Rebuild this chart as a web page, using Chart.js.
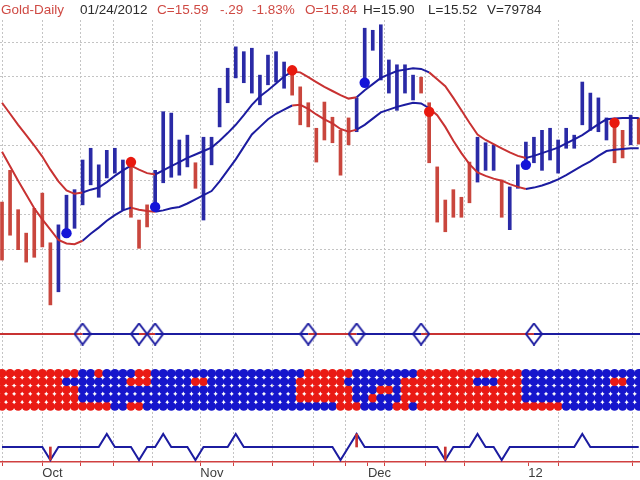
<!DOCTYPE html>
<html><head><meta charset="utf-8">
<style>html,body{margin:0;padding:0;background:#fff;overflow:hidden}canvas{display:block}</style>
<script src="https://cdn.jsdelivr.net/npm/chart.js@4.4.1/dist/chart.umd.min.js"></script>
</head><body>
<canvas id="c" width="640" height="480"></canvas>
<script>
// ---------- DATA ----------
const highs = [14.68,15.14,14.57,14.23,14.59,14.81,14.09,14.35,14.78,14.86,
  15.29,15.46,15.22,15.43,15.46,15.29,15.29,14.42,14.64,15.14,
  15.99,15.97,15.58,15.65,15.25,15.62,15.62,16.33,16.62,16.93,
  16.86,16.91,16.52,16.81,16.86,16.71,16.64,16.35,16.12,15.75,
  16.13,15.91,15.72,15.90,16.19,17.20,17.17,17.25,16.74,16.67,
  16.67,16.52,16.49,16.12,15.19,14.71,14.86,14.75,15.26,15.62,
  15.54,15.51,15.00,14.90,15.22,15.55,15.62,15.72,15.75,15.58,
  15.75,15.65,16.42,16.26,16.19,15.90,15.84,15.72,15.94,15.90];
const lows = [13.84,14.20,13.99,13.81,13.88,14.03,13.19,13.38,14.17,14.30,
  14.64,14.93,14.75,15.03,15.10,14.57,14.46,14.01,14.32,14.57,
  14.96,15.04,15.07,15.19,14.88,14.42,15.22,15.77,16.12,16.48,
  16.41,16.26,16.09,16.38,16.42,16.33,16.23,15.80,15.77,15.26,
  15.58,15.54,15.07,15.51,15.70,16.38,16.88,16.45,16.26,16.01,
  16.26,16.16,16.26,15.25,14.39,14.25,14.46,14.46,14.67,14.97,
  15.14,15.14,14.46,14.28,14.88,15.19,15.25,15.14,15.29,15.10,
  15.46,15.46,15.80,15.72,15.70,15.58,15.25,15.32,15.51,15.52];
const upperBand = [16.12,15.96,15.80,15.65,15.50,15.34,15.15,14.98,14.85,14.80,
  14.82,14.86,14.89,14.97,15.06,15.14,15.21,15.15,15.10,15.08,
  15.14,15.20,15.26,15.32,15.37,15.42,15.47,15.57,15.68,15.80,
  15.94,16.09,16.21,16.30,16.40,16.50,16.57,16.56,16.49,16.42,
  16.35,16.29,16.23,16.18,16.20,16.30,16.39,16.48,16.53,16.58,
  16.60,16.62,16.61,16.56,16.46,16.36,16.19,16.01,15.83,15.66,
  15.58,15.52,15.46,15.40,15.35,15.32,15.35,15.39,15.43,15.47,
  15.53,15.59,15.65,15.73,15.81,15.88,15.89,15.90,15.90,15.90];
const lowerBand = [15.41,15.20,14.99,14.79,14.59,14.43,14.28,14.13,14.08,14.07,
  14.12,14.22,14.31,14.41,14.49,14.56,14.60,14.57,14.55,14.54,
  14.56,14.59,14.61,14.66,14.72,14.78,14.84,14.98,15.14,15.30,
  15.48,15.66,15.77,15.88,15.96,16.02,16.08,16.09,16.03,15.95,
  15.88,15.82,15.74,15.70,15.73,15.80,15.89,15.98,16.02,16.06,
  16.09,16.12,16.11,16.04,15.94,15.77,15.57,15.39,15.23,15.11,
  15.06,15.02,14.99,14.94,14.90,14.87,14.89,14.92,14.96,15.01,
  15.07,15.14,15.21,15.27,15.35,15.42,15.44,15.45,15.46,15.46];
// R = down (red), B = up (blue), one letter per bar, groups of ten
const barTrend  = 'RRRRRRRBBB BBBBBBRRRB BBBBRBBBBB BBBBBBRRRR RRRRBBBBBB BBRRRRRRRB BBRBBBBBBB BBBBBBRRBR';
const bandTrend = 'RRRRRRRRRR BBBBBBRRRB BBBBBBBBBB BBBBBBRRRR RRRRBBBBBB BBBRRRRRRR RRRRRBBBBB BBBBBBBBBB';
const row1 = 'RRRRRRRRRR BBRBBBBRRB BBBBBBBBBB BBBBBBBBRR RRRRBBBBBB BBRRRRRRRR RRRRRBBBBB BBBBBBBBBB';
const row2 = 'RRRRRRRRBB BBBBBBRRRB BBBBRRBBBB BBBBBBBRRR RRRBBBBBBB RRRRRRRRRB BBRRRBBBBB BBBBBBRRBB';
const row3 = 'RRRRRRRRRR BBBBBBBBBB BBBBBBBBBB BBBBBBBRRR RRRRBBBRRB RRRRRRRRRR RRRRRBBBBB BBBBBBBBBB';
const row4 = 'RRRRRRRRRR BBBBBBBBBB BBBBBBBBBB BBBBBBBRRR RRRRBBRBBB RRRRRRRRRR RRRRRBBBBB BBBBBBBBBB';
const row5 = 'RRRRRRRRRR RRRRBBRRBB BBBBBBBBBB BBBBBBBBBB BBRRRBBBBR RBRRRRRRRR RRRRRRRRRR BBBBBBBBBB';
const blueDotIdx = [8, 19, 45, 65];
const blueDotVal = [14.23, 14.61, 16.41, 15.22];
const redDotIdx = [16, 36, 53, 76];
const redDotVal = [15.26, 16.59, 15.99, 15.83];
const diamondIdx = [10, 17, 19, 38, 44, 52, 66];
const wavePeaks = [13, 20, 29, 44, 59, 72];
const waveTroughs = [6, 17, 24, 42, 55, 62];
const waveMarkIdx = [6, 44, 55];
const waveMarkVal = [-1, 1, -1];
const weekTicks = [0, 5, 9.7, 13.8, 18.7, 24.6, 28.7, 33.6, 38.6, 42.6, 47.5, 52.5, 57.4, 69, 78.2];
const monthTicks = [5, 24.6, 45.4, 65.3];
const monthLabels = ['Oct', 'Nov', 'Dec', '12'];
const headerTexts = ['Gold-Daily', '01/24/2012', 'C=15.59', '-.29', '-1.83%', 'O=15.84', 'H=15.90', 'L=15.52', 'V=79784'];

// ---------- STYLE ----------
const RED_BAR = '#c9463d', BLUE_BAR = '#2a2aa6';
const RED_LINE = '#c83232', BLUE_LINE = '#1c1ca0';
const DOT_RED = '#e8190f', DOT_BLUE = '#1414d8';
const M_RED = '#ea1a14', M_BLUE = '#1616cc';
const GRID = '#c4c4c4', AXIS_RED = '#d04040';
const TXT_RED = '#cf4a44', TXT_DARK = '#2c2c2c';
const headerColors = [TXT_RED, TXT_DARK, TXT_RED, TXT_RED, TXT_RED, TXT_RED, TXT_DARK, TXT_DARK, TXT_DARK];
const headerX = [1, 80, 157, 220, 252, 305, 363, 428, 487];
const FONT = '"Liberation Sans", Arial, sans-serif';
const X_MIN = -0.25, X_MAX = 79.16;

const clean = s => s.replace(/ /g, '').split('');
const barT = clean(barTrend), bandT = clean(bandTrend);
const rows = [row1, row2, row3, row4, row5].map(clean);
const idx = highs.map((_, i) => i);
const wave = idx.map(i => wavePeaks.includes(i) ? 1 : (waveTroughs.includes(i) ? -1 : 0));

// diamond marker image
const dia = document.createElement('canvas');
dia.width = 18; dia.height = 23;
(() => { const g = dia.getContext('2d'); g.strokeStyle = BLUE_LINE; g.lineWidth = 2;
  g.beginPath(); g.moveTo(9, 1); g.lineTo(17, 11.5); g.lineTo(9, 22); g.lineTo(1, 11.5); g.closePath(); g.stroke(); })();

const datasets = [];
datasets.push({ type: 'scatter', yAxisID: 'yP', order: 0,
  data: blueDotIdx.map((x, k) => ({ x, y: blueDotVal[k] })), pointRadius: 5.2, pointBackgroundColor: DOT_BLUE, pointBorderWidth: 0 });
datasets.push({ type: 'scatter', yAxisID: 'yP', order: 0,
  data: redDotIdx.map((x, k) => ({ x, y: redDotVal[k] })), pointRadius: 5.2, pointBackgroundColor: DOT_RED, pointBorderWidth: 0 });
const segCol = c => bandT[c.p0DataIndex] === 'R' ? RED_LINE : BLUE_LINE;
[upperBand, lowerBand].forEach(b => datasets.push({ type: 'line', yAxisID: 'yP', order: 1,
  data: idx.map(i => ({ x: i, y: b[i] })), borderWidth: 2, pointRadius: 0, tension: 0,
  borderColor: BLUE_LINE, segment: { borderColor: segCol } }));
datasets.push({ type: 'bar', yAxisID: 'yP', order: 2, grouped: false,
  data: idx.map(i => ({ x: i, y: [lows[i], highs[i]] })), barThickness: 3, borderWidth: 0,
  backgroundColor: idx.map(i => barT[i] === 'R' ? RED_BAR : BLUE_BAR) });
datasets.push({ type: 'scatter', yAxisID: 'yD', order: 0,
  data: diamondIdx.map(x => ({ x, y: 0 })), pointStyle: dia, pointRadius: 10 });
const dLine = [X_MIN, ...diamondIdx, X_MAX];
datasets.push({ type: 'line', yAxisID: 'yD', order: 1,
  data: dLine.map(x => ({ x, y: 0 })), borderWidth: 2, pointRadius: 0, borderColor: RED_LINE,
  segment: { borderColor: c => c.p0DataIndex % 2 === 0 ? RED_LINE : BLUE_LINE } });
rows.forEach((r, k) => datasets.push({ type: 'scatter', yAxisID: 'yM', order: 3,
  data: idx.map(i => ({ x: i, y: 5 - k })), pointRadius: 4.5, pointBorderWidth: 0,
  pointBackgroundColor: idx.map(i => r[i] === 'R' ? M_RED : M_BLUE) }));
datasets.push({ type: 'line', yAxisID: 'yW', order: 1,
  data: idx.map(i => ({ x: i, y: wave[i] })), borderWidth: 2, pointRadius: 0, tension: 0, borderColor: BLUE_LINE });
datasets.push({ type: 'bar', yAxisID: 'yW', order: 0, grouped: false,
  data: waveMarkIdx.map((x, k) => ({ x, y: [0, waveMarkVal[k]] })), barThickness: 2, borderWidth: 0, backgroundColor: RED_LINE });

const allTicks = [...new Set([...weekTicks, ...monthTicks])].sort((a, b) => a - b);

const headerPlugin = {
  id: 'header',
  beforeDatasetsDraw(chart) {
    const ctx = chart.ctx; ctx.save(); ctx.fillStyle = '#fff'; ctx.fillRect(0, 0, 640, 19); ctx.restore();
  },
  afterDraw(chart) {
    const ctx = chart.ctx; ctx.save();
    ctx.font = '13.5px ' + FONT; ctx.textBaseline = 'alphabetic'; ctx.textAlign = 'left';
    headerTexts.forEach((t, k) => { ctx.fillStyle = headerColors[k]; ctx.fillText(t, headerX[k], 14); });
    ctx.restore();
  }
};

new Chart(document.getElementById('c'), {
  type: 'scatter',
  data: { datasets },
  plugins: [headerPlugin],
  options: {
    responsive: false, animation: false, devicePixelRatio: 1, events: [],
    layout: { autoPadding: false, padding: 0 },
    plugins: { legend: { display: false }, tooltip: { enabled: false }, title: { display: false } },
    scales: {
      x: { type: 'linear', min: X_MIN, max: X_MAX, position: 'bottom', offset: false,
        afterBuildTicks: s => { s.ticks = allTicks.map(v => ({ value: v })); },
        afterFit: s => { s.height = 18; },
        grid: { offset: false, lineWidth: 1, drawTicks: true, tickLength: 4, tickColor: AXIS_RED, tickWidth: 1,
          color: c => (c.tick && weekTicks.includes(c.tick.value)) ? GRID : 'rgba(0,0,0,0)' },
        border: { display: true, color: AXIS_RED, width: 1.5, dash: [2, 2] },
        ticks: { autoSkip: false, maxRotation: 0, minRotation: 0, align: 'start', padding: 0,
          color: '#3c3c3c', font: { family: FONT, size: 13 },
          callback: v => { const k = monthTicks.indexOf(v); return k >= 0 ? monthLabels[k] : ''; } } },
      yP: { type: 'linear', position: 'left', min: 10.913, max: 17.609,
        afterFit: s => { s.width = 0; },
        grid: { drawTicks: false, lineWidth: 1,
          color: c => (c.tick && c.tick.value >= 13.4 && c.tick.value <= 17.1) ? GRID : 'rgba(0,0,0,0)' },
        border: { display: false, dash: [2, 2] },
        ticks: { display: false, stepSize: 0.5, includeBounds: false } },
      yD: { type: 'linear', display: false, min: -12.8, max: 33.4 },
      yM: { type: 'linear', display: false, min: -5.805, max: 50.537 },
      yW: { type: 'linear', display: false, min: -1.154, max: 34.385 }
    }
  }
});
</script></body></html>
